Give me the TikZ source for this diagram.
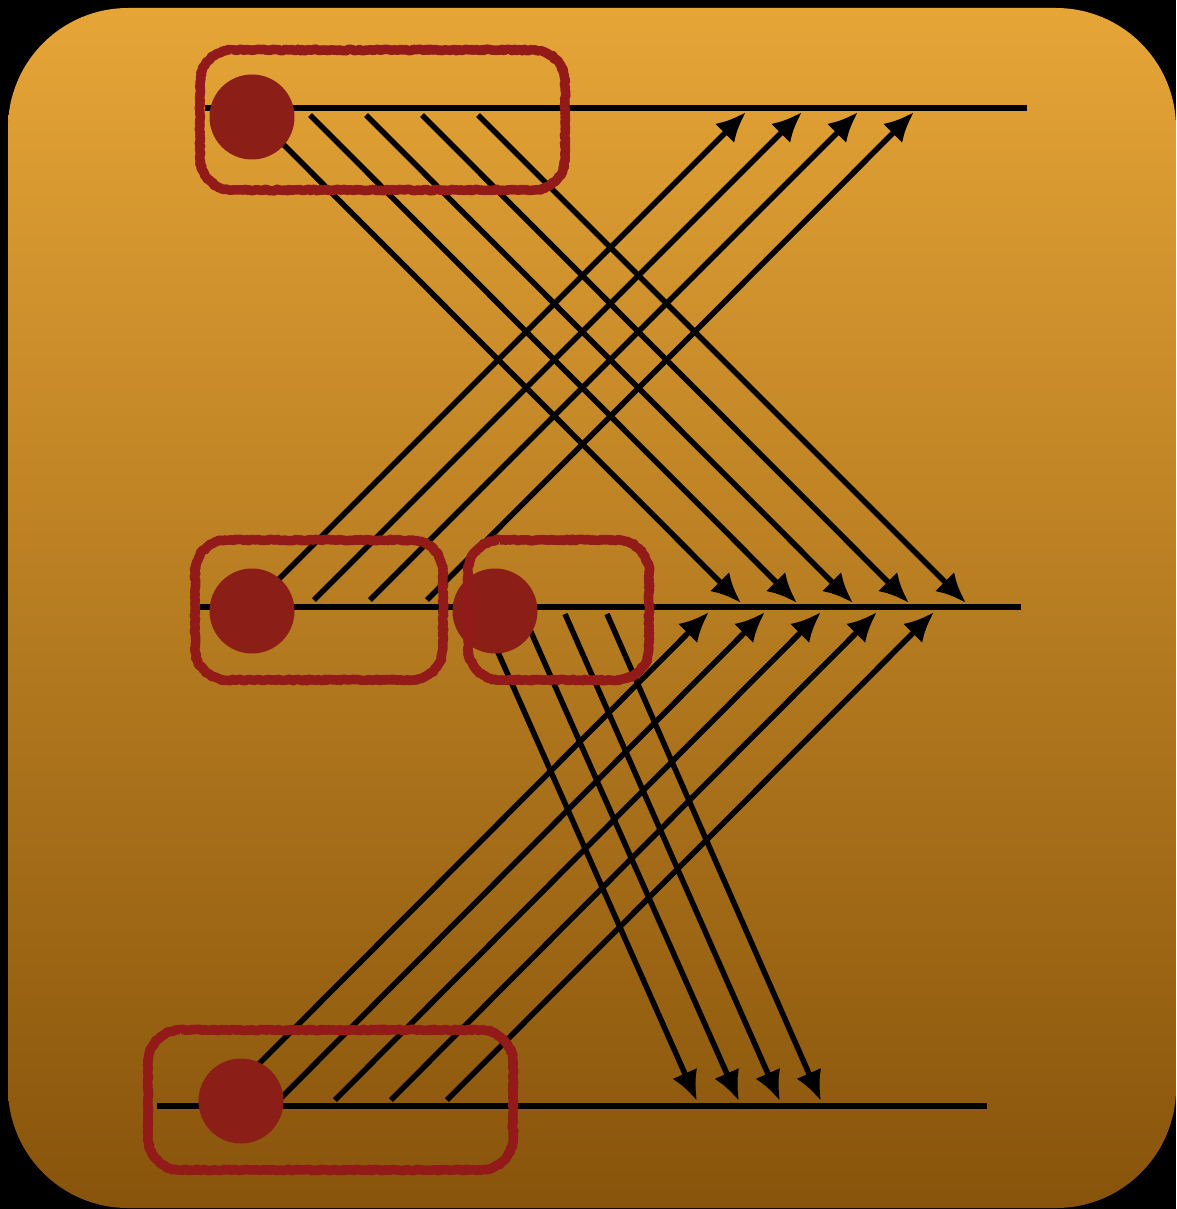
\documentclass[tikz,border=0pt]{standalone}
\usetikzlibrary{arrows.meta,decorations.pathmorphing}
\definecolor{bgtop}{RGB}{230,165,55}
\definecolor{bgbot}{RGB}{136,84,11}
\definecolor{chalkred}{RGB}{146,26,24}
\definecolor{dotred}{RGB}{139,30,22}
\newcommand\chalkbox[5]{% style, ax, ay, bx, by
  \pgfmathsetmacro\cbw{#4-#2-64}%
  \pgfmathsetmacro\cbh{#5-#3-64}%
  \draw[#1] (#2,#3) ++(32,0) -- ++(\cbw,0)
    .. controls +(17.7,0) and +(0,-17.7) .. ++(32,32)
    -- ++(0,\cbh)
    .. controls +(0,17.7) and +(17.7,0) .. ++(-32,32)
    -- ++(-\cbw,0)
    .. controls +(-17.7,0) and +(0,17.7) .. ++(-32,-32)
    -- ++(0,-\cbh)
    .. controls +(0,-17.7) and +(-17.7,0) .. ++(32,-32) -- cycle;}
\begin{document}
\begin{tikzpicture}[x=1pt,y=-1pt,
  wire/.style={line width=5.5pt},
  arr/.style={line width=5.5pt,-{Latex[length=30pt,width=27pt]}},
  dot/.style={circle,fill=dotred,minimum size=85pt,inner sep=0pt},
  chalkA/.style={draw=chalkred,line width=9.5pt,line join=round,decorate,
    decoration={random steps,segment length=2pt,amplitude=0.8pt}},
  chalkB/.style={draw=chalkred,line width=3pt,line join=round,line cap=round,decorate,
    decoration={random steps,segment length=1.2pt,amplitude=3.4pt}}]
\pgfmathsetseed{7}
\useasboundingbox (0,0) rectangle (1176,1209);
\fill[black] (0,0) rectangle (1176,1209);
\shade[top color=bgtop,bottom color=bgbot,rounded corners=120pt] (8,8) rectangle (1176,1208);
% horizontal lines
\coordinate (T0) at (205,108); \coordinate (T1) at (1027,108);
\coordinate (M0) at (200,607); \coordinate (M1) at (1021,607);
\coordinate (B0) at (157,1106); \coordinate (B1) at (987,1106);
\draw[wire] (T0) -- (T1);
\draw[wire] (M0) -- (M1);
\draw[wire] (B0) -- (B1);
% top -> middle
\foreach \i/\sx/\ex in {1/254/741,2/310/797,3/366/853,4/422/909,5/478/966}{
  \coordinate (td\i) at (\sx,115); \coordinate (mt\i) at (\ex,603);
  \draw[arr] (td\i) -- (mt\i);}
% middle -> top
\foreach \i/\sx/\ex in {1/258/746,2/314/802,3/370/858,4/427/914}{
  \coordinate (mu\i) at (\sx,600); \coordinate (tu\i) at (\ex,112);
  \draw[arr] (mu\i) -- (tu\i);}
% bottom -> middle
\foreach \i/\sx/\ex in {1/223/709,2/279/765,3/335/821,4/391/877,5/447/934}{
  \coordinate (bu\i) at (\sx,1100); \coordinate (mb\i) at (\ex,612);
  \draw[arr] (bu\i) -- (mb\i);}
% middle -> bottom
\foreach \i/\sx/\ex in {1/481/697,2/523/739,3/565/780,4/607/821}{
  \coordinate (md\i) at (\sx,614); \coordinate (bd\i) at (\ex,1101);
  \draw[arr] (md\i) -- (bd\i);}
% dots
\node[dot] (d1) at (252,117) {};
\node[dot] (d2) at (252,611) {};
\node[dot] (d3) at (495,611) {};
\node[dot] (d4) at (241,1101) {};
% chalk boxes
\foreach \ax/\ay/\bx/\by in {200/50/565/190,195/540/443/680,468/540/649/680,148/1030/513/1170}{
  \chalkbox{chalkA}{\ax}{\ay}{\bx}{\by}
  \chalkbox{chalkB}{\ax}{\ay}{\bx}{\by}}
\end{tikzpicture}
\end{document}
